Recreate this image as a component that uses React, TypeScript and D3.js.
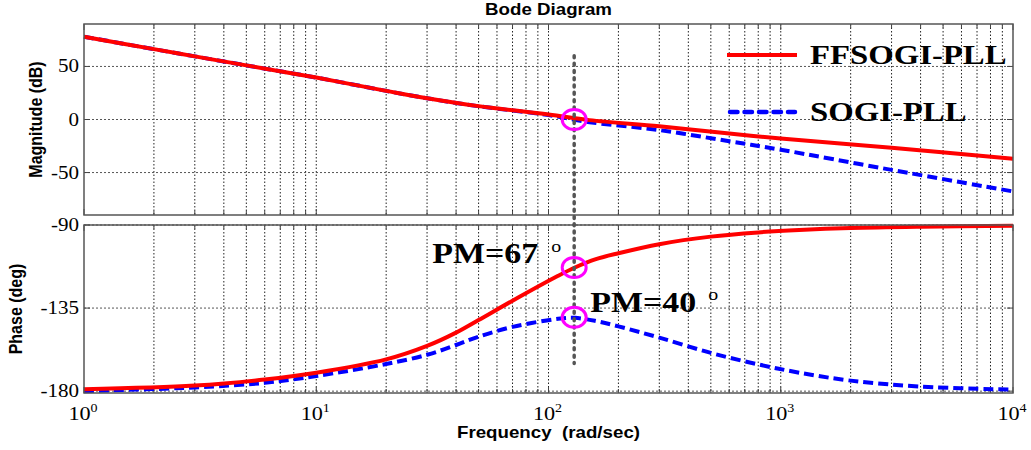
import { useRef, useEffect } from 'react'
import { select, scaleLog, scaleLinear, line, curveCatmullRom } from 'd3'

// magnitude (dB)
const magFreq = [1, 2, 3, 5, 10, 20, 30, 50, 100, 150, 300, 600, 1000, 3000, 10000]
const magFfsogi = [78, 66.3, 59.5, 51, 39.5, 27, 20, 12.6, 4.8, -0.6, -6.4, -13.2, -18, -26.7, -37]
const magSogi = [78, 66.3, 59.5, 51, 39.5, 27, 20, 12.5, 4.2, -2.5, -10, -20.5, -28.5, -47.5, -67.8]

// phase (deg)
const phFreq = [1, 3, 6, 10, 20, 30, 40, 50, 70, 110, 130, 160, 200, 300, 500, 800, 1200, 2000, 4000, 10000]
const phFfsogi = [-179, -177, -173.7, -170, -162.8, -155.5, -148.3, -141.5, -131, -117.5, -113, -108.5, -105.3, -100.4, -96.3, -94, -92.7, -91.6, -90.9, -90.4]
const phSogi = [-180, -178, -175.5, -171.8, -165.3, -160.3, -155, -150.5, -145.2, -140.8, -140.3, -142, -144.9, -151, -159.3, -165.5, -170, -174.3, -177.5, -179.2]

const magTicks = [50, 0, -50]
const phaseTicks = [-90, -135, -180]
const decadeTicks = [1, 10, 100, 1000, 10000]
const seriesNames = ['FFSOGI-PLL', 'SOGI-PLL']
const crossFreq = 129
const pmFfsogi = 67
const pmSogi = 40

const serif = '"Liberation Serif", "Times New Roman", serif'
const sans = '"Liberation Sans", Arial, sans-serif'
const stretch = 1.17

const App = () => {
  const svgRef = useRef(null)

  useEffect(() => {
    const svg = select(svgRef.current)
    svg.selectAll('*').remove()

    const left = 84
    const right = 1013
    const magTop = 24
    const magBottom = 215
    const phTop = 225
    const phBottom = 393

    const xScale = scaleLog().domain([1, 10000]).range([left, right])
    const yMag = scaleLinear().domain([-90, 90]).range([magBottom, magTop])
    const yPh = scaleLinear().domain([-181, -90]).range([phBottom, phTop])

    const minorFreqs = []
    for (let d = 0; d < 4; d++) {
      for (let k = 2; k <= 9; k++) minorFreqs.push(k * 10 ** d)
    }
    const gridFreqs = minorFreqs.concat([10, 100, 1000])

    // stretched text helper, the picture is a bit wider than tall
    const stext = (x, y, str, size, family, weight, anchor, rotate = 0) => {
      const g = svg
        .append('g')
        .attr('transform', `translate(${x} ${y}) scale(${stretch} 1)${rotate ? ` rotate(${rotate})` : ''}`)
      return g
        .append('text')
        .text(str)
        .attr('font-size', size)
        .attr('font-family', family)
        .attr('font-weight', weight)
        .attr('text-anchor', anchor)
        .attr('fill', 'black')
    }

    const panels = [
      { y: yMag, top: magTop, bottom: magBottom, ticks: magTicks },
      { y: yPh, top: phTop, bottom: phBottom, ticks: phaseTicks },
    ]

    panels.forEach((p) => {
      const g = svg.append('g')
      g.append('rect')
        .attr('x', left)
        .attr('y', p.top)
        .attr('width', right - left)
        .attr('height', p.bottom - p.top)
        .attr('fill', 'white')

      g.selectAll('.vgrid')
        .data(gridFreqs)
        .join('line')
        .attr('x1', (d) => xScale(d))
        .attr('x2', (d) => xScale(d))
        .attr('y1', p.top)
        .attr('y2', p.bottom)
        .attr('stroke', '#222')
        .attr('stroke-width', 1)
        .attr('stroke-dasharray', '1.5,2')

      g.selectAll('.hgrid')
        .data(p.ticks)
        .join('line')
        .attr('x1', left)
        .attr('x2', right)
        .attr('y1', (d) => p.y(d))
        .attr('y2', (d) => p.y(d))
        .attr('stroke', '#555')
        .attr('stroke-width', 1)
        .attr('stroke-dasharray', '2,2')

      // inner ticks on top and bottom edges
      const allTicks = decadeTicks.map((f) => ({ f, len: 6 })).concat(minorFreqs.map((f) => ({ f, len: 4 })))
      ;[p.top, p.bottom].forEach((edge, i) => {
        g.selectAll(null)
          .data(allTicks)
          .join('line')
          .attr('x1', (d) => xScale(d.f))
          .attr('x2', (d) => xScale(d.f))
          .attr('y1', edge)
          .attr('y2', (d) => (i === 0 ? edge + d.len : edge - d.len))
          .attr('stroke', '#444')
          .attr('stroke-width', 1)
      })
      ;[left, right].forEach((edge, i) => {
        g.selectAll(null)
          .data(p.ticks)
          .join('line')
          .attr('x1', edge)
          .attr('x2', i === 0 ? edge + 6 : edge - 6)
          .attr('y1', (d) => p.y(d))
          .attr('y2', (d) => p.y(d))
          .attr('stroke', '#444')
          .attr('stroke-width', 1)
      })

      p.ticks.forEach((t) => {
        stext(79, p.y(t) + 6, String(t), 18, serif, 'normal', 'end')
      })
    })

    // curves
    const magLine = (vals) =>
      line()
        .x((d, i) => xScale(magFreq[i]))
        .y((d) => yMag(d))
        .curve(curveCatmullRom.alpha(0.5))(vals)
    const phLine = (vals) =>
      line()
        .x((d, i) => xScale(phFreq[i]))
        .y((d) => yPh(d))
        .curve(curveCatmullRom.alpha(0.5))(vals)

    const blueStyle = (sel) =>
      sel.attr('fill', 'none').attr('stroke', '#0000ff').attr('stroke-width', 4).attr('stroke-dasharray', '10,5')
    const redStyle = (sel) => sel.attr('fill', 'none').attr('stroke', '#ff0000').attr('stroke-width', 4)

    svg.append('path').attr('d', magLine(magSogi)).call(blueStyle)
    svg.append('path').attr('d', magLine(magFfsogi)).call(redStyle)
    svg.append('path').attr('d', phLine(phSogi)).call(blueStyle)
    svg.append('path').attr('d', phLine(phFfsogi)).call(redStyle)

    // panel frames
    panels.forEach((p) => {
      svg.append('rect')
        .attr('x', left)
        .attr('y', p.top)
        .attr('width', right - left)
        .attr('height', p.bottom - p.top)
        .attr('fill', 'none')
        .attr('stroke', '#555')
        .attr('stroke-width', 1.5)
    })

    // crossover marker
    const cx = xScale(crossFreq)
    svg.append('line')
      .attr('x1', cx)
      .attr('x2', cx)
      .attr('y1', yMag(60))
      .attr('y2', yPh(-165))
      .attr('stroke', '#555')
      .attr('stroke-width', 3.5)
      .attr('stroke-linecap', 'round')
      .attr('stroke-dasharray', '2,5.3')

    const circles = [yMag(0), yPh(-180 + pmFfsogi), yPh(-180 + pmSogi)]
    svg.selectAll('.pm')
      .data(circles)
      .join('ellipse')
      .attr('cx', cx)
      .attr('cy', (d) => d)
      .attr('rx', 12)
      .attr('ry', 10)
      .attr('fill', 'none')
      .attr('stroke', '#ff00ff')
      .attr('stroke-width', 3)

    // PM labels
    stext(cx - 142, yPh(-180 + pmFfsogi) - 4, `PM=${pmFfsogi}`, 29, serif, 'bold', 'start')
    stext(cx - 18, yPh(-180 + pmFfsogi) - 15, 'o', 17, serif, 'normal', 'middle')
    stext(cx + 16, yPh(-180 + pmSogi) - 5, `PM=${pmSogi}`, 29, serif, 'bold', 'start')
    stext(cx + 139, yPh(-180 + pmSogi) - 17, 'o', 17, serif, 'normal', 'middle')

    // legend
    svg.append('line').attr('x1', 727).attr('x2', 797).attr('y1', 55).attr('y2', 55)
      .attr('stroke', '#ff0000').attr('stroke-width', 4)
    stext(810, 64, seriesNames[0], 28, serif, 'bold', 'start')
    svg.append('line').attr('x1', 730).attr('x2', 795).attr('y1', 112).attr('y2', 112)
      .attr('stroke', '#0000ff').attr('stroke-width', 4.5).attr('stroke-linecap', 'round')
      .attr('stroke-dasharray', '7.5,7')
    stext(810, 121, seriesNames[1], 28, serif, 'bold', 'start')

    // x tick labels
    decadeTicks.forEach((f, i) => {
      const t = stext(xScale(f) - 1, 420, '10', 19, serif, 'normal', 'middle')
      t.append('tspan').text(String(i)).attr('font-size', 12).attr('dy', -8)
    })

    // titles
    stext((left + right) / 2, 15, 'Bode Diagram', 16, sans, 'bold', 'middle')
    stext((left + right) / 2, 438, 'Frequency  (rad/sec)', 16, sans, 'bold', 'middle').attr('xml:space', 'preserve')
    stext(42, (magTop + magBottom) / 2, 'Magnitude (dB)', 16, sans, 'bold', 'middle', -90)
    stext(21.5, (phTop + phBottom) / 2, 'Phase (deg)', 16, sans, 'bold', 'middle', -90)
  }, [])

  return (
    <div>
      <svg
        ref={svgRef}
        width="1031"
        height="450"
        style={{ position: 'absolute', left: 0, top: 0, background: 'white' }}
      ></svg>
    </div>
  )
}

export default App
